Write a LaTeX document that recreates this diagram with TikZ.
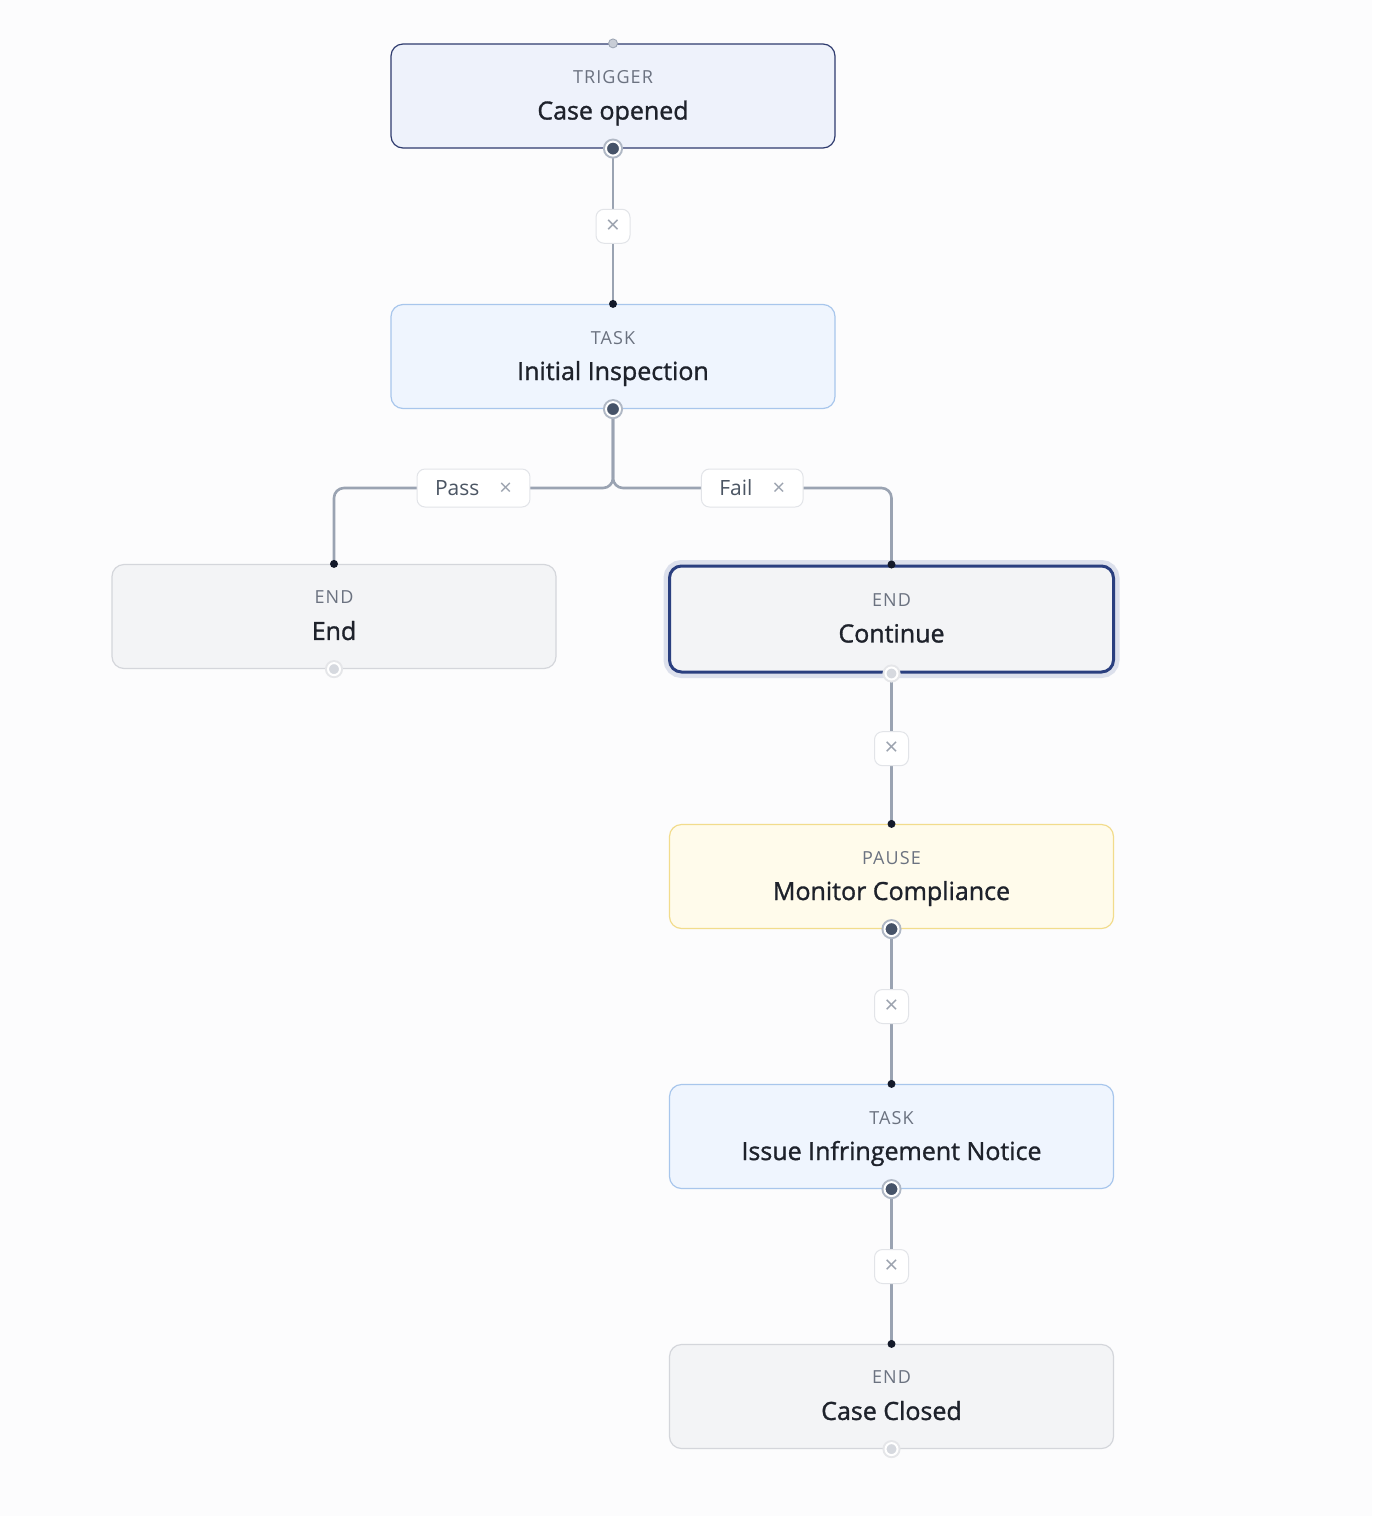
\documentclass[tikz,border=0pt]{standalone}
\usepackage{fontspec}
\setmainfont{Open Sans}
\usetikzlibrary{positioning}

\definecolor{bg}{HTML}{FCFCFD}
\definecolor{trigfill}{HTML}{EEF2FB}
\definecolor{trigline}{HTML}{2E3B6E}
\definecolor{taskfill}{HTML}{EFF5FE}
\definecolor{taskline}{HTML}{A8C6EC}
\definecolor{endfill}{HTML}{F3F4F6}
\definecolor{endline}{HTML}{D4D6DB}
\definecolor{pausefill}{HTML}{FFFBEB}
\definecolor{pauseline}{HTML}{F2DC8C}
\definecolor{selline}{HTML}{2A3F7F}
\definecolor{halo}{HTML}{DCE0EC}
\definecolor{wire}{HTML}{9AA3B2}
\definecolor{lbl}{HTML}{6B7280}
\definecolor{ttl}{HTML}{1E222B}
\definecolor{portdark}{HTML}{465368}
\definecolor{portring}{HTML}{B0B8C5}
\definecolor{dotdark}{HTML}{141A2A}
\definecolor{fadedot}{HTML}{D6D9DF}
\definecolor{boxline}{HTML}{E2E4E8}
\definecolor{xgray}{HTML}{9CA3AF}
\definecolor{taggray}{HTML}{4B5563}

% two lines of a card: kind, then title
\newcommand\cardtext[2]{{\fontsize{9}{9}\selectfont\addfontfeature{LetterSpace=6}\color{lbl}#1}\\{\addfontfeature{FakeBold=1.2}\color{ttl}#2}}

\begin{document}
\begin{tikzpicture}[x=0.5pt,y=-0.5pt,
	card/.style={rectangle, rounded corners=6pt, minimum width=222pt, minimum height=52pt,
		inner sep=0pt, align=center, text depth=1pt, line width=0.6pt, font=\fontsize{12.5}{18}\selectfont},
	trigger/.style={card, fill=trigfill, draw=trigline},
	task/.style={card, fill=taskfill, draw=taskline},
	endcard/.style={card, fill=endfill, draw=endline},
	pause/.style={card, fill=pausefill, draw=pauseline},
	wire/.style={draw=wire, line width=1.3pt},
	xbox/.style={rectangle, fill=white, draw=boxline, line width=0.5pt, rounded corners=4pt,
		minimum size=17pt, inner sep=0pt, text=xgray, font=\fontsize{12}{12}\selectfont},
	tag/.style={rectangle, fill=white, draw=boxline, line width=0.5pt, rounded corners=4pt,
		minimum height=19pt, inner xsep=9pt, text=taggray, font=\fontsize{10.5}{10.5}\selectfont},
	outport/.style={circle, inner sep=0pt, minimum size=7pt, fill=portdark, draw=white, line width=1pt,
		preaction={draw=portring, line width=3pt}},
	fadeport/.style={circle, inner sep=0pt, minimum size=6pt, fill=fadedot, draw=white, line width=1pt,
		preaction={draw=endline!60, line width=3pt}},
	inport/.style={circle, inner sep=0pt, minimum size=4pt, fill=dotdark},
	topport/.style={circle, inner sep=0pt, minimum size=4.5pt, fill=portring!70, draw=wire, line width=0.4pt}
	]
	\fill[bg] (0,0) rectangle (1372,1516);
	\useasboundingbox (0,0) rectangle (1372,1516);

	% cards
	\node[trigger] (trig) at (613,96) {\cardtext{TRIGGER}{Case opened}};
	\node[task] (inspect) at (613,356.5) {\cardtext{TASK}{Initial Inspection}};
	\node[endcard] (endL) at (334,616.5) {\cardtext{END}{End}};
	\node[endcard, draw=selline, line width=1.5pt, minimum height=53pt,
		preaction={draw=halo, line width=6pt}] (cont) at (891.5,619) {\cardtext{END}{Continue}};
	\node[pause] (monitor) at (891.5,876.5) {\cardtext{PAUSE}{Monitor Compliance}};
	\node[task] (issue) at (891.5,1136.5) {\cardtext{TASK}{Issue Infringement Notice}};
	\node[endcard] (closed) at (891.5,1396.5) {\cardtext{END}{Case Closed}};

	% connectors
	\draw[wire] (trig.south) -- node[xbox] (x1) {×} (inspect.north);
	\coordinate (split) at (613,488);
	\draw[wire, rounded corners=5pt] (inspect.south) -- (split) -| node[tag, pos=0.25] (passtag) {Pass\hspace{10pt}{\color{xgray}\fontsize{11}{11}\selectfont×}} (endL.north);
	\draw[wire, rounded corners=5pt] (inspect.south) -- (split) -| node[tag, pos=0.25] (failtag) {Fail\hspace{10pt}{\color{xgray}\fontsize{11}{11}\selectfont×}} (cont.north);
	\draw[wire] (cont.south) -- node[xbox] (x2) {×} (monitor.north);
	\draw[wire] (monitor.south) -- node[xbox] (x3) {×} (issue.north);
	\draw[wire] (issue.south) -- node[xbox] (x4) {×} (closed.north);

	% ports
	\node[topport] (trig-in) at (trig.north) {};
	\node[outport] (trig-out) at (trig.south) {};
	\node[inport] (inspect-in) at (inspect.north) {};
	\node[outport] (inspect-out) at (inspect.south) {};
	\node[inport] (endL-in) at (endL.north) {};
	\node[fadeport] (endL-out) at (endL.south) {};
	\node[inport] (cont-in) at (cont.north) {};
	\node[fadeport] (cont-out) at (cont.south) {};
	\node[inport] (monitor-in) at (monitor.north) {};
	\node[outport] (monitor-out) at (monitor.south) {};
	\node[inport] (issue-in) at (issue.north) {};
	\node[outport] (issue-out) at (issue.south) {};
	\node[inport] (closed-in) at (closed.north) {};
	\node[fadeport] (closed-out) at (closed.south) {};
\end{tikzpicture}
\end{document}
